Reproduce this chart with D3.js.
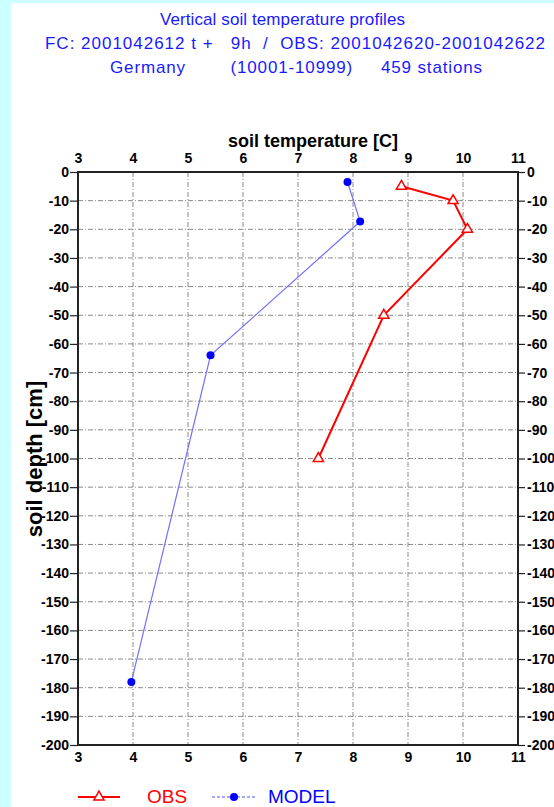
<!DOCTYPE html>
<html>
<head>
<meta charset="utf-8">
<script src="https://cdn.jsdelivr.net/npm/d3@7"></script>
<style>
    body { margin: 0; background: #ccffff; }
    svg { display: block; }
    text { font-family: 'Liberation Sans', Arial, Helvetica, sans-serif; }
    .tick text { font-size: 14px; font-weight: bold; fill: #000; }
    .title { fill: #1a1aff; font-size: 17px; }
</style>
</head>
<body>
<svg id="chart" width="554" height="807"></svg>
<script>
// observed mean soil temperature per depth
var obsTemp  = [8.88, 9.82, 10.08, 8.56, 7.37];
var obsDepth = [-5, -10, -20, -50, -100];
// model soil layers
var modelTemp  = [7.90, 8.13, 5.41, 3.97];
var modelDepth = [-3.5, -17.3, -64, -178];

var xTicks = [3, 4, 5, 6, 7, 8, 9, 10, 11];
var yTicks = [0, -10, -20, -30, -40, -50, -60, -70, -80, -90, -100, -110, -120,
              -130, -140, -150, -160, -170, -180, -190, -200];

var titleLines = [
    "Vertical soil temperature profiles",
    "FC: 2001042612 t +   9h  /  OBS: 2001042620-2001042622",
    "Germany        (10001-10999)     459 stations"
];

var svg = d3.select("#chart");
var W = 554, H = 807;
var m = {l: 78, r: 518, t: 172, b: 745};

// white panel on cyan page
svg.append("rect").attr("x", 11).attr("y", 3)
    .attr("width", W - 11).attr("height", H - 3).attr("fill", "#fff");

// title block, each line stretched to the width seen in the original
var titleX = [160, 45, 110], titleW = [245, 500, 372];
svg.selectAll("text.title").data(titleLines).enter().append("text")
    .attr("class", "title")
    .attr("x", function(d, i) { return titleX[i]; })
    .attr("y", function(d, i) { return 25 + i * 24; })
    .attr("textLength", function(d, i) { return titleW[i]; })
    .attr("lengthAdjust", "spacing")
    .attr("xml:space", "preserve")
    .text(function(d) { return d; });

var x = d3.scaleLinear().domain([3, 11]).range([m.l, m.r]);
var y = d3.scaleLinear().domain([0, -200]).range([m.t, m.b]);

// grid
var grid = svg.append("g");
grid.selectAll("line.gx").data(xTicks.slice(1, -1)).enter().append("line")
    .attr("x1", function(d) { return x(d); }).attr("x2", function(d) { return x(d); })
    .attr("y1", m.t).attr("y2", m.b);
grid.selectAll("line.gy").data(yTicks.slice(1, -1)).enter().append("line")
    .attr("y1", function(d) { return y(d); }).attr("y2", function(d) { return y(d); })
    .attr("x1", m.l).attr("x2", m.r);
grid.selectAll("line")
    .attr("stroke", "#8a8a8a").attr("stroke-width", 1)
    .attr("stroke-dasharray", "5,2,1,2");

// axes
var fmt = function(d) { return String(d); };
svg.append("g").attr("transform", "translate(0," + m.t + ")")
    .call(d3.axisTop(x).tickValues(xTicks).tickFormat(fmt).tickSize(0).tickPadding(9));
svg.append("g").attr("transform", "translate(0," + m.b + ")")
    .call(d3.axisBottom(x).tickValues(xTicks).tickFormat(fmt).tickSize(0).tickPadding(7));
svg.append("g").attr("transform", "translate(" + m.l + ",0)")
    .call(d3.axisLeft(y).tickValues(yTicks).tickFormat(fmt).tickSize(8).tickPadding(1));
svg.append("g").attr("transform", "translate(" + m.r + ",0)")
    .call(d3.axisRight(y).tickValues(yTicks).tickFormat(fmt).tickSize(7).tickPadding(2));
svg.selectAll(".domain").remove();
svg.selectAll(".tick line").attr("stroke", "#222").attr("stroke-width", 1.2);

// frame
svg.append("rect").attr("x", m.l).attr("y", m.t)
    .attr("width", m.r - m.l).attr("height", m.b - m.t)
    .attr("fill", "none").attr("stroke", "#222").attr("stroke-width", 2);

// axis titles
svg.append("text").attr("x", 313).attr("y", 147).attr("text-anchor", "middle")
    .attr("font-size", 18).attr("font-weight", "bold").text("soil temperature [C]");
svg.append("text").attr("transform", "translate(42,459) rotate(-90)")
    .attr("text-anchor", "middle")
    .attr("font-size", 22).attr("font-weight", "bold").text("soil depth [cm]");

// series
var line = d3.line().x(function(d) { return x(d[0]); }).y(function(d) { return y(d[1]); });
var obs = d3.zip(obsTemp, obsDepth);
var model = d3.zip(modelTemp, modelDepth);

svg.append("path").datum(model).attr("d", line)
    .attr("fill", "none").attr("stroke", "#7070ff").attr("stroke-width", 1.2);
svg.selectAll("circle.m").data(model).enter().append("circle")
    .attr("cx", function(d) { return x(d[0]); }).attr("cy", function(d) { return y(d[1]); })
    .attr("r", 4).attr("fill", "#0000ff");

svg.append("path").datum(obs).attr("d", line)
    .attr("fill", "none").attr("stroke", "#ff0000").attr("stroke-width", 2);
var tri = d3.symbol().type(d3.symbolTriangle).size(45);
svg.selectAll("path.o").data(obs).enter().append("path")
    .attr("d", tri)
    .attr("transform", function(d) { return "translate(" + x(d[0]) + "," + y(d[1]) + ")"; })
    .attr("fill", "#fff").attr("stroke", "#ff0000").attr("stroke-width", 1.5);

// legend
var lg = svg.append("g");
lg.append("line").attr("x1", 78).attr("x2", 120).attr("y1", 797).attr("y2", 797)
    .attr("stroke", "#ff0000").attr("stroke-width", 2);
lg.append("path").attr("d", tri).attr("transform", "translate(99,797)")
    .attr("fill", "#fff").attr("stroke", "#ff0000").attr("stroke-width", 1.5);
lg.append("text").attr("x", 147).attr("y", 803).attr("font-size", 19)
    .attr("fill", "#ff0000").text("OBS");
lg.append("line").attr("x1", 212).attr("x2", 255).attr("y1", 797).attr("y2", 797)
    .attr("stroke", "#5050ff").attr("stroke-width", 1).attr("stroke-dasharray", "3,2");
lg.append("circle").attr("cx", 234).attr("cy", 797).attr("r", 4).attr("fill", "#0000ff");
lg.append("text").attr("x", 268).attr("y", 803).attr("font-size", 19)
    .attr("fill", "#0000ff").text("MODEL");
</script>
</body>
</html>
